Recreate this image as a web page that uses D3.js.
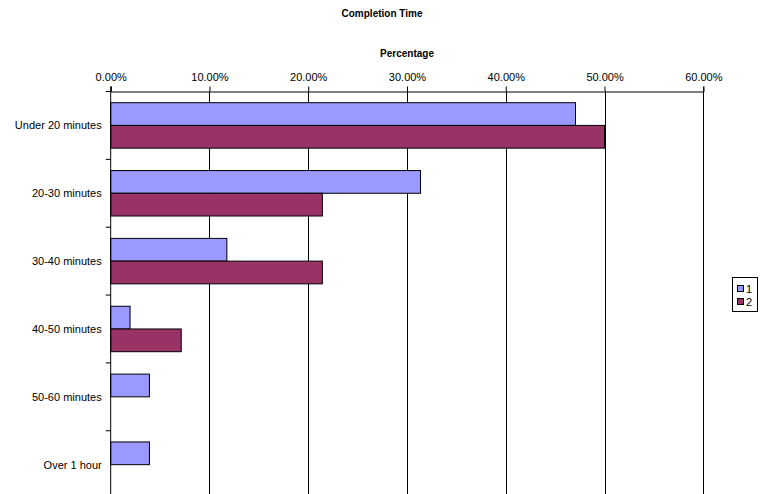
<!DOCTYPE html>
<html>
<head>
<meta charset="utf-8">
<script src="https://cdn.jsdelivr.net/npm/d3@7/dist/d3.min.js"></script>
<style>
  html, body { margin: 0; padding: 0; background: #fff; }
  svg { display: block; font-family: "Liberation Sans", Arial, sans-serif; }
</style>
</head>
<body>
<svg id="chart" width="765" height="494"></svg>
<script>
// Completion time distribution for two respondent groups
const categories = ["Under 20 minutes", "20-30 minutes", "30-40 minutes", "40-50 minutes", "50-60 minutes", "Over 1 hour"];
const seriesNames = ["1", "2"];
const series1 = [47.06, 31.37, 11.76, 1.96, 3.92, 3.92];
const series2 = [50.0, 21.43, 21.43, 7.14, 0, 0];
const xTicks = [0, 10, 20, 30, 40, 50, 60];
const colors = ["#9999FF", "#993366"];

const svg = d3.select("#chart");
const plotLeft = 110.7, plotRight = 703.3, plotTop = 91.5, plotBottom = 498.6;

const x = d3.scaleLinear().domain([0, 60]).range([plotLeft, plotRight]);
const y = d3.scaleBand().domain(categories).range([plotTop, plotBottom]).paddingInner(0.33).paddingOuter(0.165);
const ySeries = d3.scaleBand().domain(seriesNames).range([0, y.bandwidth()]);

// Title
svg.append("text").attr("x", 382).attr("y", 17).attr("text-anchor", "middle")
  .attr("font-size", 10).attr("font-weight", "bold").text("Completion Time");

// Axis title
svg.append("text").attr("x", (plotLeft + plotRight) / 2).attr("y", 57).attr("text-anchor", "middle")
  .attr("font-size", 10).attr("font-weight", "bold").text("Percentage");

// Vertical gridlines
svg.append("g").selectAll("line").data(xTicks.slice(1)).join("line")
  .attr("x1", d => Math.round(x(d)) + 0.5).attr("x2", d => Math.round(x(d)) + 0.5)
  .attr("y1", plotTop).attr("y2", plotBottom)
  .attr("stroke", "#000").attr("stroke-width", 1);

// Bars
const rows = categories.map((c, i) => ({ cat: c, vals: [series1[i], series2[i]] }));
const groups = svg.append("g").selectAll("g").data(rows).join("g")
  .attr("transform", d => `translate(0,${y(d.cat)})`);
groups.selectAll("rect")
  .data(d => d.vals.map((v, j) => ({ v, s: seriesNames[j], j })).filter(e => e.v > 0))
  .join("rect")
  .attr("x", x(0))
  .attr("y", d => ySeries(d.s))
  .attr("width", d => x(d.v) - x(0))
  .attr("height", ySeries.bandwidth())
  .attr("fill", d => colors[d.j])
  .attr("stroke", "#000").attr("stroke-width", 1);

// Top axis
const xAxis = d3.axisTop(x).tickValues(xTicks).tickSize(5).tickFormat(d => d.toFixed(2) + "%");
const gx = svg.append("g").attr("transform", `translate(0,${plotTop})`).call(xAxis);
gx.select(".domain").attr("stroke", "#000");
gx.selectAll(".tick line").attr("stroke", "#000");
gx.selectAll(".tick text").attr("font-size", 11).attr("font-family", "Liberation Sans, Arial, sans-serif")
  .attr("fill", "#000").attr("y", -11);

// Left axis with tick marks at category boundaries
svg.append("line").attr("x1", plotLeft).attr("x2", plotLeft).attr("y1", plotTop - 5).attr("y2", plotBottom)
  .attr("stroke", "#000");
const step = y.step();
const bounds = d3.range(categories.length + 1).map(i => plotTop + i * step);
svg.append("g").selectAll("line").data(bounds).join("line")
  .attr("x1", plotLeft - 5).attr("x2", plotLeft).attr("y1", d => d).attr("y2", d => d)
  .attr("stroke", "#000");
svg.append("g").selectAll("text").data(categories).join("text")
  .attr("x", plotLeft - 9).attr("y", d => y(d) + y.bandwidth() / 2 + 4)
  .attr("text-anchor", "end").attr("font-size", 11).text(d => d);

// Legend
const lg = svg.append("g");
lg.append("rect").attr("x", 732.5).attr("y", 277.5).attr("width", 25).attr("height", 34)
  .attr("fill", "#fff").attr("stroke", "#000");
seriesNames.forEach((n, i) => {
  lg.append("rect").attr("x", 737.5).attr("y", 285.5 + i * 13).attr("width", 6).attr("height", 6)
    .attr("fill", colors[i]).attr("stroke", "#000");
  lg.append("text").attr("x", 746).attr("y", 293 + i * 13).attr("font-size", 11).text(n);
});
</script>
</body>
</html>
